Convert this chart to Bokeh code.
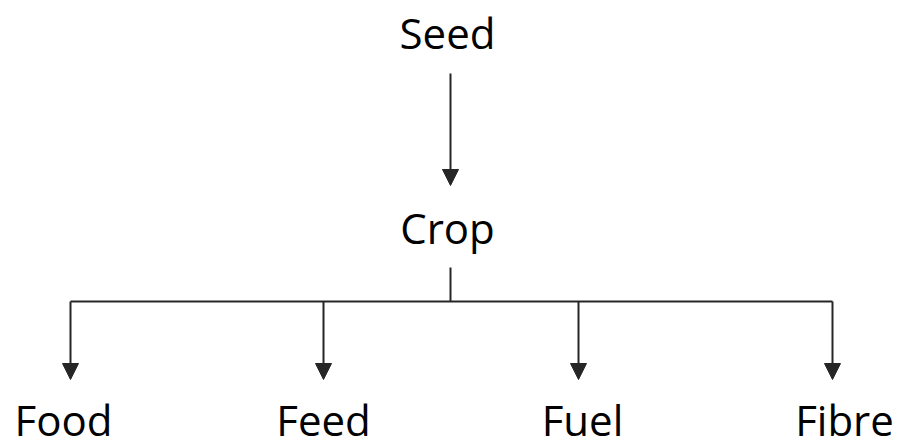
from bokeh.plotting import figure, ColumnDataSource
from bokeh.models import Arrow, NormalHead, Range1d
from bokeh.embed import file_html
from bokeh.resources import INLINE
from bokeh.core.properties import value

# Node labels of the flow diagram
node_names = ["Seed", "Crop", "Food", "Feed", "Fuel", "Fibre"]
node_x = [447, 447, 63, 323, 582, 844]
node_y = [48, 243, 435, 435, 435, 435]

# Outputs of the crop (targets of the branching arrows)
branch_names = ["Food", "Feed", "Fuel", "Fibre"]
branch_x = [70, 323, 578, 832]

LINE = "#262626"

p = figure(width=897, height=440, output_backend="svg", toolbar_location=None,
           x_range=Range1d(0, 897), y_range=Range1d(440, 0), min_border=0)
p.axis.visible = False
p.grid.visible = False
p.outline_line_color = None
p.background_fill_color = "white"
p.border_fill_color = "white"

# Seed -> Crop arrow
p.add_layout(Arrow(end=NormalHead(size=16, fill_color=LINE, line_color=LINE, line_width=1),
                   x_start=450, y_start=73, x_end=450, y_end=185,
                   line_color=LINE, line_width=2))

# Crop stem and horizontal bar
p.segment(x0=[450, min(branch_x)], y0=[267, 301], x1=[450, max(branch_x)], y1=[301, 301],
          line_color=LINE, line_width=2)

# Branch arrows
src = ColumnDataSource(dict(x0=branch_x, y0=[301] * len(branch_x),
                            x1=branch_x, y1=[379] * len(branch_x)))
p.add_layout(Arrow(end=NormalHead(size=16, fill_color=LINE, line_color=LINE, line_width=1),
                   x_start="x0", y_start="y0", x_end="x1", y_end="y1",
                   source=src, line_color=LINE, line_width=2))

# Labels
p.text(x=node_x, y=node_y, text=node_names, text_align="center",
       text_baseline="alphabetic", text_font=value("Open Sans"),
       text_font_size="42px", text_color="black", y_offset=-16)

open("out.html", "w").write(file_html(p, INLINE))
